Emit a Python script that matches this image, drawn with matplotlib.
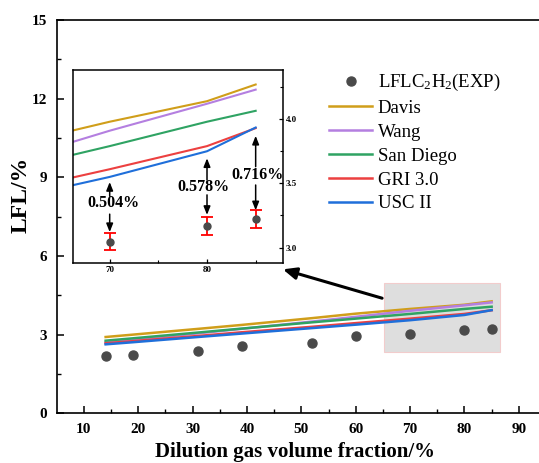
import matplotlib
matplotlib.use("Agg")
import matplotlib.pyplot as plt
from matplotlib.patches import Rectangle

plt.rcParams['font.family'] = ['Liberation Serif', 'DejaVu Serif']
plt.rcParams['mathtext.fontset'] = 'custom'
plt.rcParams['mathtext.rm'] = 'Liberation Serif'
plt.rcParams['mathtext.it'] = 'Liberation Serif:italic'
plt.rcParams['mathtext.bf'] = 'Liberation Serif:bold'

# ---- data ----
exp_x = [14, 19, 31, 39, 52, 60, 70, 80, 85]
exp_y = [2.18, 2.21, 2.39, 2.58, 2.70, 2.94, 3.04, 3.16, 3.21]

inset_x = [70, 80, 85]
inset_y = [3.044, 3.17, 3.22]
inset_err = [0.066, 0.069, 0.071]
diff_labels = ["0.504%", "0.578%", "0.716%"]

model_x = [14, 19, 31, 39, 52, 60, 70, 80, 85]
davis = [2.91, 3.00, 3.22, 3.37, 3.63, 3.80, 3.98, 4.14, 4.27]
wang = [2.70, 2.80, 3.05, 3.22, 3.50, 3.68, 3.91, 4.12, 4.23]
san_diego = [2.77, 2.86, 3.08, 3.23, 3.47, 3.61, 3.79, 3.98, 4.065]
gri = [2.67, 2.75, 2.95, 3.09, 3.30, 3.44, 3.61, 3.79, 3.93]
usc = [2.63, 2.71, 2.91, 3.04, 3.25, 3.38, 3.55, 3.75, 3.935]

model_names = ["Davis", "Wang", "San Diego", "GRI 3.0", "USC II"]
model_vals = [davis, wang, san_diego, gri, usc]
model_colors = ["#D09E1A", "#B47FE0", "#2FA363", "#EC4040", "#1F6FDA"]

# ---- figure ----
W, H = 539, 463
fig = plt.figure(figsize=(W / 100, H / 100), dpi=100)
ax = fig.add_axes([56.7 / W, 1 - 413.3 / H, (546 - 56.7) / W, (413.3 - 20) / H])

ax.add_patch(Rectangle((65.15, 2.34), 86.6 - 65.15, 4.96 - 2.34,
                       facecolor="#dedede", edgecolor="#f2cccc", lw=0.8, zorder=1))

handles = []
for name, vals, c in zip(model_names, model_vals, model_colors):
    h, = ax.plot(model_x, vals, color=c, lw=1.8, label=name, zorder=2)
    handles.append(h)
sc, = ax.plot(exp_x, exp_y, 'o', color="#4a4a4a", ms=6.5, ls='none',
              label=r"LFLC$_2$H$_2$(EXP)", zorder=3)

ax.set_xlim(5, 95)
ax.set_ylim(0, 15)
ax.set_xticks([10, 20, 30, 40, 50, 60, 70, 80, 90])
ax.set_xticks(range(15, 95, 10), minor=True)
ax.set_yticks([0, 3, 6, 9, 12, 15])
ax.set_yticks([1.5, 4.5, 7.5, 10.5, 13.5], minor=True)
ax.tick_params(which='both', direction='in', top=False, right=False)
ax.tick_params(which='major', length=5, width=1.1, labelsize=11, pad=7)
ax.tick_params(which='minor', length=3, width=1.0)
for lab in ax.get_xticklabels() + ax.get_yticklabels():
    lab.set_fontweight('bold')
for s in ax.spines.values():
    s.set_linewidth(1.2)
ax.spines['right'].set_visible(False)

ax.set_xlabel("Dilution gas volume fraction/%", fontsize=15, fontweight='bold')
ax.set_ylabel("LFL/%", fontsize=17, fontweight='bold')
ax.xaxis.set_label_coords(0.487, -0.073)
ax.yaxis.set_label_coords(-0.052, 0.556)

leg = ax.legend([sc] + handles, [sc.get_label()] + model_names,
                loc='upper left', bbox_to_anchor=(329 / W, 1 - 72 / H),
                bbox_transform=fig.transFigure, frameon=False,
                prop={'size': 13.5}, handlelength=2.3, handletextpad=0.3,
                labelspacing=0.36, borderpad=0, borderaxespad=0)

ax.annotate("", xy=(46.6, 5.49), xytext=(64.85, 4.39),
            arrowprops=dict(arrowstyle='-|>,head_length=0.8,head_width=0.35',
                            color='black', lw=2.2, shrinkA=0, shrinkB=0), zorder=5)

# ---- inset ----
ins = fig.add_axes([73.3 / W, 1 - 263.3 / H, (283.3 - 73.3) / W, (263.3 - 70) / H])
for vals, c in zip(model_vals, model_colors):
    ins.plot(model_x, vals, color=c, lw=1.5)
ins.errorbar(inset_x, inset_y, yerr=inset_err, fmt='o', color="#4a4a4a", ms=5,
             ecolor='red', elinewidth=1.3, capsize=4, capthick=1.3, zorder=4)
ins.set_xlim(66.26, 87.84)
ins.set_ylim(2.877, 4.383)
ins.set_xticks([70, 80])
ins.set_xticks([75, 85], minor=True)
ins.set_yticks([3.0, 3.5, 4.0])
ins.set_yticks([3.25, 3.75, 4.25], minor=True)
ins.yaxis.tick_right()
ins.tick_params(which='both', direction='in', left=False, right=True, top=False)
ins.tick_params(which='major', length=3, width=0.9, labelsize=6.5, pad=2)
ins.tick_params(which='minor', length=2, width=0.8)
ins.set_yticklabels(["3.0", "3.5", "4.0"])
for lab in ins.get_xticklabels() + ins.get_yticklabels():
    lab.set_fontweight('bold')
for s in ins.spines.values():
    s.set_linewidth(1.1)

text_pos = [(70.37, 3.346), (79.67, 3.47), (85.2, 3.565)]
up_arrows = [(3.40, 3.51), (3.526, 3.695), (3.63, 3.87)]
down_arrows = [(3.26, 3.12), (3.41, 3.254), (3.487, 3.29)]
akw = dict(arrowstyle='-|>,head_length=0.5,head_width=0.2', color='black',
           lw=1.1, shrinkA=0, shrinkB=0)
for xi, lab, (tx, ty), (u0, u1), (d0, d1) in zip(inset_x, diff_labels, text_pos,
                                                 up_arrows, down_arrows):
    ins.text(tx, ty, lab, ha='center', va='center', fontsize=11.5, fontweight='bold')
    ins.annotate("", xy=(xi, u1), xytext=(xi, u0), arrowprops=akw)
    ins.annotate("", xy=(xi, d1), xytext=(xi, d0), arrowprops=akw)

fig.savefig("out.png", dpi=100)
